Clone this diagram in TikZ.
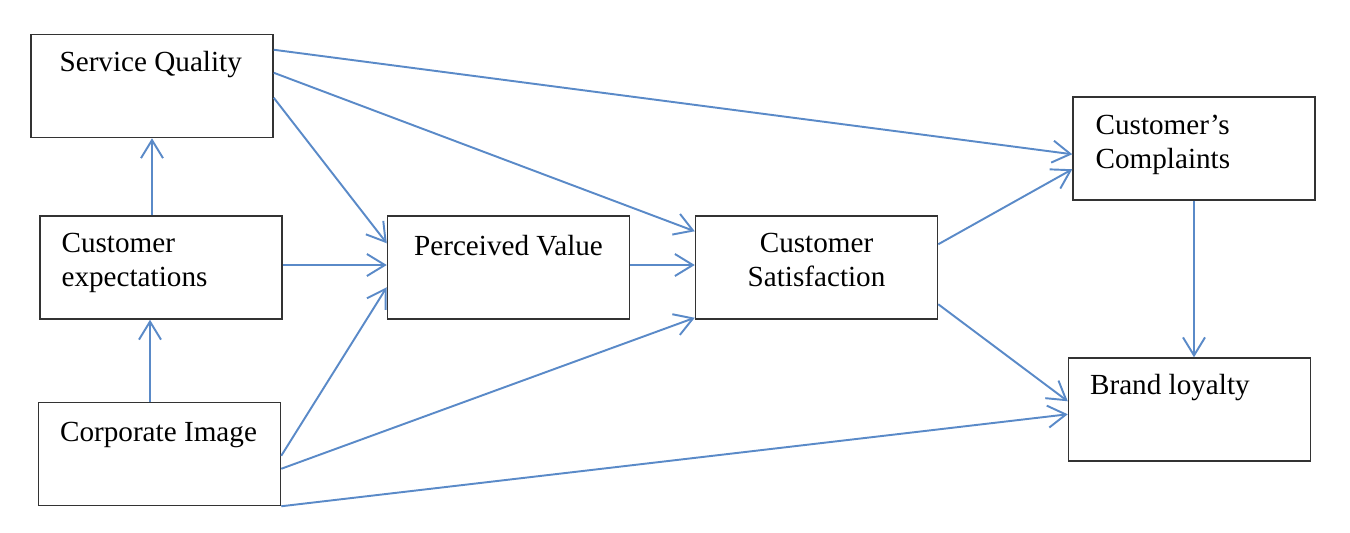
\documentclass[tikz,border=0pt]{standalone}
\usepackage{fontspec}
\setmainfont{Liberation Serif}
\usetikzlibrary{arrows.meta,positioning}
\definecolor{linkblue}{RGB}{90,138,200}

\begin{document}
\begin{tikzpicture}[
  box/.style={draw=black!80, line width=0.85pt, minimum width=4.84cm, minimum height=2.06cm, inner sep=0pt},
  lbl/.style={inner sep=0pt, font=\fontsize{16.6}{19.3}\selectfont},
  link/.style={draw=linkblue, line width=1.1pt, -{Straight Barb[length=0.36cm,width=0.44cm]}}
]
\useasboundingbox (0,0) rectangle (27,-10.64);
% boxes
\node[box] (sq) at (3.04,-1.72) {};
\node[box] (ce) at (3.22,-5.35) {};
\node[box] (ci) at (3.19,-9.08) {};
\node[box] (pv) at (10.17,-5.35) {};
\node[box] (cs) at (16.33,-5.35) {};
\node[box] (cc) at (23.88,-2.97) {};
\node[box] (bl) at (23.79,-8.19) {};
% texts (two-line texts sit on their last line)
\node[lbl, anchor=base west] (sqt) at ([xshift=0.58cm,yshift=-0.76cm]sq.north west) {Service Quality};
\node[lbl, anchor=base west, align=left] (cet) at ([xshift=0.44cm,yshift=-1.42cm]ce.north west) {Customer\\expectations};
\node[lbl, anchor=base west] (cit) at ([xshift=0.44cm,yshift=-0.80cm]ci.north west) {Corporate Image};
\node[lbl, anchor=base] (pvt) at ([yshift=-0.80cm]pv.north) {Perceived Value};
\node[lbl, anchor=base, align=center] (cst) at ([yshift=-1.42cm]cs.north) {Customer\\Satisfaction};
\node[lbl, anchor=base west, align=left] (cct) at ([xshift=0.46cm,yshift=-1.44cm]cc.north west) {Customer’s\\Complaints};
\node[lbl, anchor=base west] (blt) at ([xshift=0.44cm,yshift=-0.74cm]bl.north west) {Brand loyalty};
% links
\draw[link] (sq.south |- ce.north) -- (sq.south);
\draw[link] ([xshift=-0.19cm]ci.north) -- ([xshift=-0.19cm]ci.north |- ce.south);
\draw[link] ([yshift=-0.32cm]sq.north east) -- ([yshift=-1.16cm]cc.north west);
\draw[link] ([yshift=-0.78cm]sq.north east) -- ([yshift=-0.32cm]cs.north west);
\draw[link] ([yshift=-1.28cm]sq.north east) -- ([yshift=-0.56cm]pv.north west);
\draw[link] ([yshift=0.05cm]ce.east) -- ([yshift=0.05cm]ce.east -| pv.west);
\draw[link] ([yshift=-1.08cm]ci.north east) -- ([yshift=-1.44cm]pv.north west);
\draw[link] ([yshift=-1.34cm]ci.north east) -- ([yshift=0.04cm]cs.south west);
\draw[link] (ci.south east) -- ([yshift=-1.14cm]bl.north west);
\draw[link] ([yshift=0.05cm]pv.east) -- ([yshift=0.05cm]pv.east -| cs.west);
\draw[link] ([yshift=-0.58cm]cs.north east) -- ([yshift=-1.46cm]cc.north west);
\draw[link] ([yshift=-1.78cm]cs.north east) -- ([yshift=-0.88cm]bl.north west);
\draw[link] (cc.south) -- (cc.south |- bl.north);
\end{tikzpicture}
\end{document}
